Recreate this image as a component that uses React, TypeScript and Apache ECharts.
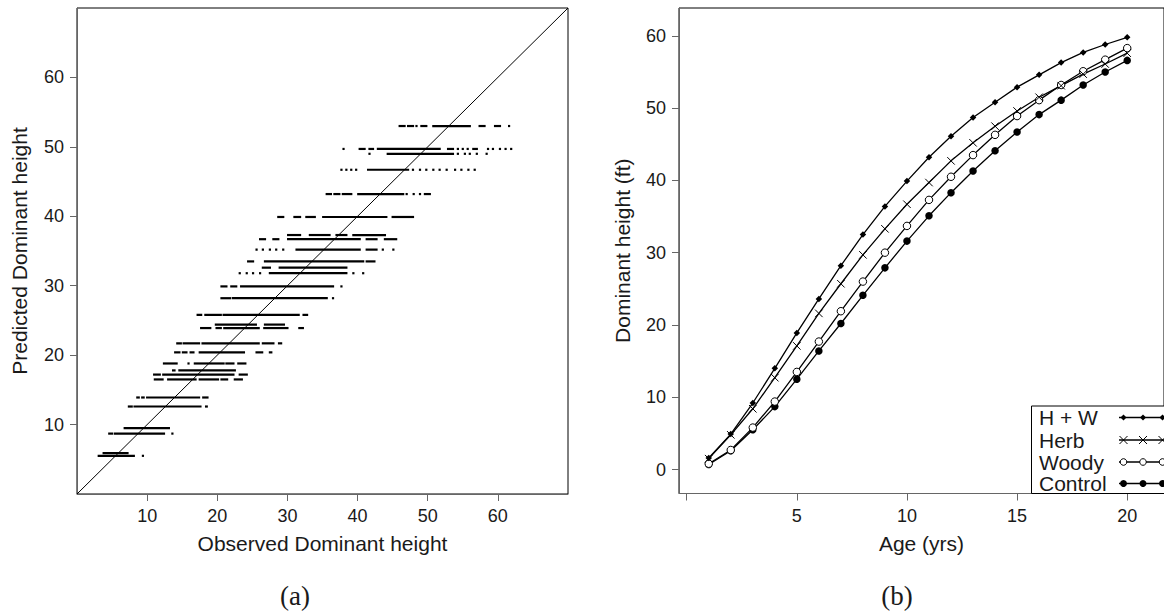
import React, { useEffect, useRef } from "react";
import * as echarts from "echarts";

// ---------- Panel (a): observed vs predicted dominant height ----------
// Each predicted value (row) has runs of observed values [from, to]; single dots have from === to.
const predictedRows = [
  5.5, 5.9, 8.7, 9.5, 12.6, 13.9, 16.5, 17.2, 17.8, 18.8, 20.4, 21.7, 23.9, 24.4, 25.8,
  28.2, 29.9, 31.8, 32.6, 33.5, 35.2, 36.7, 37.3, 39.9, 43.2, 46.7, 49.0, 49.7, 53.0,
];
const observedRuns: number[][][] = [
  [[3.1, 8.1], [9.4, 9.4]],
  [[3.8, 7.2]],
  [[4.6, 5.0], [5.4, 12.4], [13.6, 13.6]],
  [[6.8, 13.1]],
  [[7.4, 7.8], [8.2, 17.6], [18.4, 18.5]],
  [[8.6, 8.8], [9.3, 9.5], [10.0, 17.4], [18.0, 18.6]],
  [[11.1, 12.2], [13.0, 16.9], [17.5, 20.1], [20.6, 21.4], [22.5, 23.5]],
  [[11.0, 11.8], [12.3, 22.3], [23.2, 24.2]],
  [[13.7, 13.9], [14.6, 22.5]],
  [[12.4, 14.2], [15.9, 15.9], [16.8, 20.9], [21.3, 22.3], [23.0, 24.0]],
  [[14.0, 14.6], [15.1, 15.6], [16.2, 16.6], [17.5, 23.8], [25.6, 26.4], [27.5, 27.7]],
  [[14.3, 14.8], [15.2, 17.4], [17.9, 25.9], [26.5, 28.0], [28.8, 29.1]],
  [[17.7, 19.0], [19.9, 20.5], [21.0, 25.9], [26.7, 30.0], [31.7, 32.2]],
  [[19.8, 25.5], [26.8, 29.5]],
  [[17.2, 17.7], [18.3, 20.5], [20.9, 31.6], [32.3, 32.8]],
  [[20.6, 21.8], [22.2, 35.6], [36.5, 36.5]],
  [[20.6, 21.3], [22.0, 22.7], [23.4, 36.5], [37.7, 37.7]],
  [[23.2, 23.2], [24.2, 24.2], [25.1, 25.1], [26.1, 26.1], [27.5, 38.4], [39.4, 39.4], [40.8, 40.8]],
  [[26.5, 27.5], [28.9, 38.4]],
  [[24.4, 25.1], [26.8, 40.8], [41.3, 42.4]],
  [[25.6, 25.6], [26.5, 26.5], [27.5, 27.5], [28.4, 28.4], [29.4, 29.4], [31.3, 40.3], [41.3, 42.7], [43.6, 43.6], [45.1, 45.1]],
  [[26.1, 26.8], [28.0, 28.7], [30.1, 40.3], [41.3, 42.7], [43.9, 45.5]],
  [[30.1, 31.8], [33.2, 36.0], [37.0, 38.4], [39.4, 43.9]],
  [[28.7, 29.4], [31.0, 31.8], [32.7, 33.9], [35.1, 44.1], [45.0, 47.9]],
  [[35.6, 36.2], [36.7, 37.4], [37.9, 39.1], [40.1, 46.5], [47.0, 47.0], [48.0, 48.0], [48.9, 48.9], [49.6, 50.3]],
  [[37.7, 37.7], [38.4, 38.4], [39.1, 39.1], [39.8, 39.8], [41.5, 47.2], [47.9, 47.9], [48.9, 48.9], [49.8, 49.8], [50.8, 50.8], [51.7, 51.7], [52.7, 52.7], [53.9, 53.9], [54.8, 54.8], [55.8, 55.8], [56.7, 56.7]],
  [[41.7, 41.7], [44.3, 53.6], [54.3, 54.3], [55.3, 55.3], [56.0, 56.0], [57.0, 57.0], [58.4, 58.4]],
  [[38.0, 38.0], [40.3, 41.0], [41.7, 42.2], [42.9, 51.7], [52.9, 53.6], [54.3, 54.3], [55.0, 55.0], [55.7, 55.7], [56.5, 57.0], [58.6, 58.6], [59.3, 59.3], [60.3, 60.3], [61.1, 61.1], [61.9, 61.9]],
  [[46.0, 46.7], [47.2, 47.9], [48.4, 48.4], [49.1, 49.8], [50.8, 56.0], [57.4, 58.1], [59.6, 60.3], [61.6, 61.6]],
];
const identityLine = [[0, 0], [70, 70]];
const scatterTicks = [0, 10, 20, 30, 40, 50, 60, 70];

// ---------- Panel (b): dominant height by age ----------
const ages = [1, 2, 3, 4, 5, 6, 7, 8, 9, 10, 11, 12, 13, 14, 15, 16, 17, 18, 19, 20];
const hwHeight = [1.6, 4.9, 9.2, 14.0, 18.9, 23.6, 28.2, 32.5, 36.4, 39.9, 43.2, 46.1, 48.7, 50.8, 52.9, 54.6, 56.3, 57.7, 58.8, 59.8];
const herbHeight = [1.5, 4.8, 8.4, 12.7, 17.1, 21.6, 25.7, 29.7, 33.3, 36.7, 39.7, 42.7, 45.2, 47.5, 49.6, 51.5, 53.1, 54.7, 56.1, 57.6];
const woodyHeight = [0.8, 2.7, 5.8, 9.4, 13.5, 17.7, 21.9, 26.0, 30.0, 33.7, 37.3, 40.5, 43.5, 46.3, 48.9, 51.1, 53.2, 55.1, 56.7, 58.3];
const controlHeight = [0.7, 2.6, 5.5, 8.7, 12.5, 16.4, 20.2, 24.1, 27.9, 31.6, 35.1, 38.3, 41.3, 44.1, 46.7, 49.1, 51.1, 53.2, 55.0, 56.6];
const ageTicks = [0, 5, 10, 15, 20];
const ageLabels = [5, 10, 15, 20];
const heightTicks = [0, 10, 20, 30, 40, 50, 60];
const legendNames = ["H + W", "Herb", "Woody", "Control"];

const SANS = "'Liberation Sans', Arial, Helvetica, sans-serif";
const SERIF = "'Liberation Serif', 'DejaVu Serif', serif";
const AXIS_GRAY = "#666";
const TEXT = "#1a1a1a";

const CROSS = "path://M0,0L10,10M10,0L0,10";

function axisCommon() {
  return {
    type: "value" as const,
    splitLine: { show: false },
    axisLine: { show: true, onZero: false, lineStyle: { color: AXIS_GRAY, width: 1 } },
    axisTick: { show: true, inside: false, length: 7, lineStyle: { color: AXIS_GRAY, width: 1 } },
    nameLocation: "middle" as const,
    nameTextStyle: { fontSize: 21, color: TEXT, fontFamily: SANS },
  };
}

export default function App() {
  const ref = useRef<HTMLDivElement>(null);

  useEffect(() => {
    if (!ref.current) return;
    const chart = echarts.init(ref.current, undefined, { renderer: "svg" });

    const runData: number[][] = [];
    predictedRows.forEach((p, i) => {
      observedRuns[i].forEach((r) => runData.push([r[0], r[1], p]));
    });

    const lineSeries = (name: string, values: number[], symbol: string, size: number, item: any) => ({
      name,
      type: "line",
      xAxisIndex: 1,
      yAxisIndex: 1,
      data: ages.map((a, i) => [a, values[i]]),
      symbol,
      symbolSize: size,
      showSymbol: true,
      showAllSymbol: true,
      itemStyle: item,
      lineStyle: { color: "#000", width: 1.3 },
      emphasis: { disabled: true },
    });

    // legend (panel b) drawn as graphics
    const legX = 1031.5;
    const legY = 406;
    const rowY = [417.5, 440, 462, 483.5];
    const mx = [1123.5, 1143, 1162.5];
    const legendGraphics: any[] = [
      {
        type: "rect",
        shape: { x: legX, y: legY, width: 150, height: 493.5 - legY },
        style: { fill: "#fff", stroke: "#000", lineWidth: 1 },
        z: 10,
      },
    ];
    legendNames.forEach((n, i) => {
      legendGraphics.push({
        type: "text",
        x: 1039,
        y: rowY[i],
        style: { text: n, fontSize: 21, fontFamily: SANS, fill: TEXT, verticalAlign: "middle", align: "left" },
        z: 11,
      });
      legendGraphics.push({
        type: "line",
        shape: { x1: 1119, y1: rowY[i], x2: 1170, y2: rowY[i] },
        style: { stroke: "#000", lineWidth: 1.3 },
        z: 11,
      });
      mx.forEach((x) => {
        const y = rowY[i];
        if (i === 0) {
          legendGraphics.push({
            type: "polygon",
            shape: { points: [[x - 3, y], [x, y - 3], [x + 3, y], [x, y + 3]] },
            style: { fill: "#000" },
            z: 12,
          });
        } else if (i === 1) {
          legendGraphics.push(
            { type: "line", shape: { x1: x - 4, y1: y - 4, x2: x + 4, y2: y + 4 }, style: { stroke: "#000", lineWidth: 1 }, z: 12 },
            { type: "line", shape: { x1: x - 4, y1: y + 4, x2: x + 4, y2: y - 4 }, style: { stroke: "#000", lineWidth: 1 }, z: 12 }
          );
        } else if (i === 2) {
          legendGraphics.push({
            type: "circle",
            shape: { cx: x, cy: y, r: 3.3 },
            style: { fill: "#fff", stroke: "#000", lineWidth: 1 },
            z: 12,
          });
        } else {
          legendGraphics.push({
            type: "circle",
            shape: { cx: x, cy: y, r: 3.5 },
            style: { fill: "#000" },
            z: 12,
          });
        }
      });
    });

    const option: any = {
      animation: false,
      backgroundColor: "#fff",
      grid: [
        { left: 77, top: 8, width: 491, height: 486, show: true, borderColor: "#000", borderWidth: 1, backgroundColor: "transparent" },
        { left: 679, top: 8, width: 491, height: 485.5, show: true, borderColor: "#000", borderWidth: 1, backgroundColor: "transparent" },
      ],
      xAxis: [
        {
          ...axisCommon(),
          gridIndex: 0,
          min: 0,
          max: 70,
          interval: 10,
          axisLabel: { fontSize: 18, color: TEXT, fontFamily: SANS, margin: 13, showMinLabel: false, showMaxLabel: false },
          name: "Observed Dominant height",
          nameGap: 39,
        },
        {
          ...axisCommon(),
          gridIndex: 1,
          min: -0.35,
          max: 21.67,
          axisTick: { show: true, length: 7, lineStyle: { color: AXIS_GRAY, width: 1 }, customValues: ageTicks },
          axisLabel: { fontSize: 18, color: TEXT, fontFamily: SANS, margin: 13, customValues: ageLabels },
          name: "Age (yrs)",
          nameGap: 39,
        },
      ],
      yAxis: [
        {
          ...axisCommon(),
          gridIndex: 0,
          min: 0,
          max: 70,
          interval: 10,
          axisTick: { show: true, length: 7, lineStyle: { color: AXIS_GRAY, width: 1 }, customValues: scatterTicks },
          axisLabel: { fontSize: 18, color: TEXT, fontFamily: SANS, margin: 13, showMinLabel: false, showMaxLabel: false },
          name: "Predicted Dominant height",
          nameGap: 47,
        },
        {
          ...axisCommon(),
          gridIndex: 1,
          min: -3.32,
          max: 63.85,
          axisTick: { show: true, length: 7, lineStyle: { color: AXIS_GRAY, width: 1 }, customValues: heightTicks },
          axisLabel: { fontSize: 18, color: TEXT, fontFamily: SANS, margin: 13, customValues: heightTicks },
          name: "Dominant height (ft)",
          nameGap: 46,
        },
      ],
      series: [
        {
          type: "line",
          xAxisIndex: 0,
          yAxisIndex: 0,
          data: identityLine,
          symbol: "none",
          lineStyle: { color: "#000", width: 1 },
          emphasis: { disabled: true },
          z: 3,
        },
        {
          type: "custom",
          xAxisIndex: 0,
          yAxisIndex: 0,
          data: runData,
          encode: { x: [0, 1], y: 2 },
          z: 2,
          renderItem: (_params: any, api: any) => {
            const y = api.value(2);
            const a = api.coord([api.value(0), y]);
            const b = api.coord([api.value(1), y]);
            return {
              type: "rect",
              shape: { x: a[0] - 1.1, y: a[1] - 1.1, width: b[0] - a[0] + 2.2, height: 2.2 },
              style: { fill: "#000" },
            };
          },
        },
        lineSeries("Control", controlHeight, "circle", 7.5, { color: "#000" }),
        lineSeries("Woody", woodyHeight, "circle", 7.5, { color: "#fff", borderColor: "#000", borderWidth: 1 }),
        lineSeries("Herb", herbHeight, CROSS, 7.5, { color: "transparent", borderColor: "#000", borderWidth: 1 }),
        lineSeries("H + W", hwHeight, "diamond", 6.5, { color: "#000" }),
      ],
      graphic: [
        {
          type: "text",
          x: 295,
          y: 596,
          style: { text: "(a)", fontSize: 27, fontFamily: SERIF, fill: TEXT, align: "center", verticalAlign: "middle" },
        },
        {
          type: "text",
          x: 897,
          y: 596,
          style: { text: "(b)", fontSize: 27, fontFamily: SERIF, fill: TEXT, align: "center", verticalAlign: "middle" },
        },
        ...legendGraphics,
      ],
    };

    chart.setOption(option);
    return () => chart.dispose();
  }, []);

  return (
    <div
      ref={ref}
      style={{ position: "fixed", left: 0, top: 0, width: 1164, height: 613, background: "#fff" }}
    />
  );
}
